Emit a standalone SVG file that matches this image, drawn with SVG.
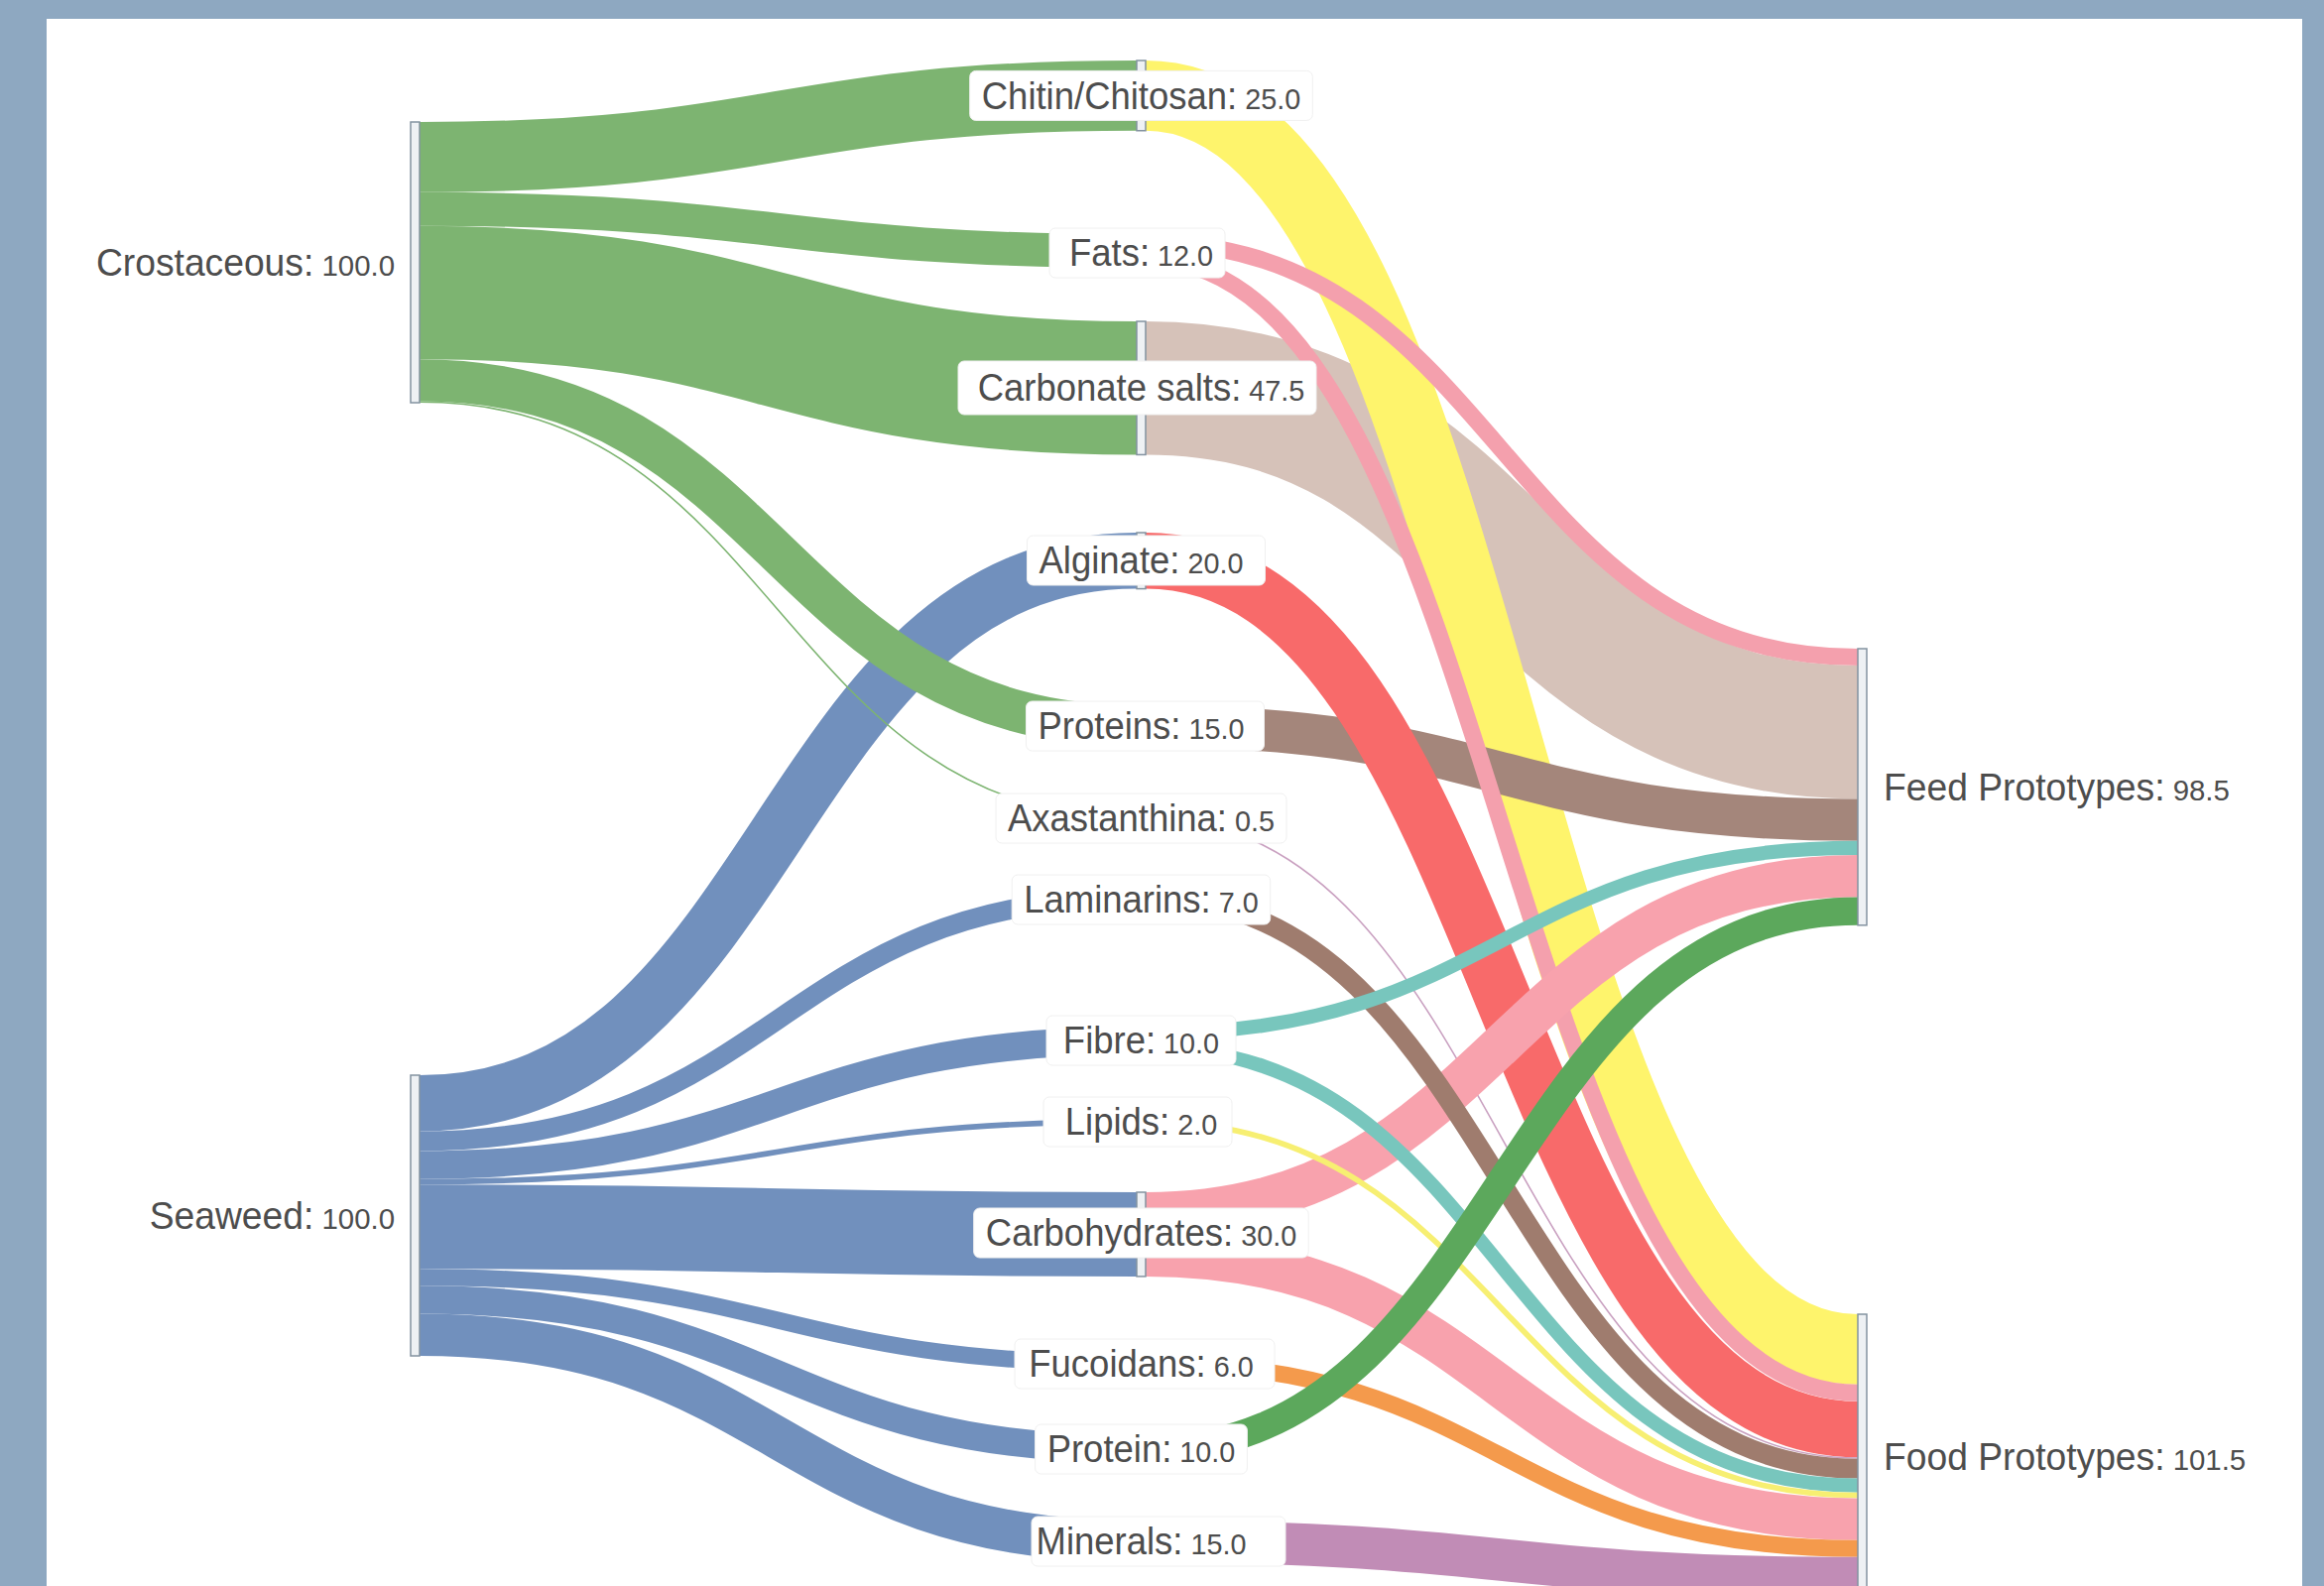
<svg xmlns="http://www.w3.org/2000/svg" width="2343" height="1599" viewBox="0 0 2343 1599">
<style>
.lk{fill:none}
.node rect.bar{fill:#eef1f4;stroke:#8392a0;stroke-width:1.5}
.box{fill:#ffffff;stroke:#f0f0f0;stroke-width:1}
.lbl{font-family:"Liberation Sans",Arial,sans-serif;fill:#4d4d4d}
.n{font-size:38px}
.v{font-size:30px}
.cr{stroke:#7db471}
.sw{stroke:#7190bd}
</style>
<rect x="0" y="0" width="2343" height="1599" fill="#8ea8c1"/>
<rect x="47" y="19" width="2274" height="1580" fill="#ffffff"/>

<g id="links">
<path class="lk sw" stroke-width="56.6" d="M423 1112.3C784.5 1112.3 784.5 565.3 1146 565.3"/>
<path class="lk sw" stroke-width="19.81" d="M423 1150.5C784.5 1150.5 784.5 904.9 1146 904.9"/>
<path class="lk sw" stroke-width="28.3" d="M423 1174.56C784.5 1174.56 784.5 1049.15 1146 1049.15"/>
<path class="lk sw" stroke-width="5.66" d="M423 1191.54C784.5 1191.54 784.5 1130.83 1146 1130.83"/>
<path class="lk sw" stroke-width="84.9" d="M423 1236.82C784.5 1236.82 784.5 1244.45 1146 1244.45"/>
<path class="lk sw" stroke-width="16.98" d="M423 1287.76C784.5 1287.76 784.5 1374.49 1146 1374.49"/>
<path class="lk sw" stroke-width="28.3" d="M423 1310.4C784.5 1310.4 784.5 1461.15 1146 1461.15"/>
<path class="lk sw" stroke-width="42.45" d="M423 1345.78C784.5 1345.78 784.5 1554.2 1146 1554.2"/>
<path class="lk cr" stroke-width="70.75" d="M423 158.38C784.5 158.38 784.5 96.38 1146 96.38"/>
<path class="lk cr" stroke-width="33.96" d="M423 210.73C784.5 210.73 784.5 253 1146 253"/>
<path class="lk cr" stroke-width="134.43" d="M423 294.92C784.5 294.92 784.5 391.21 1146 391.21"/>
<path class="lk cr" stroke-width="42.45" d="M423 383.36C784.5 383.36 784.5 732.2 1146 732.2"/>
<path class="lk cr" stroke-width="1.6" d="M423 405.29C784.5 405.29 784.5 824.7 1146 824.7"/>
<path class="lk" stroke="#d6c2b9" stroke-width="134.43" d="M1155 391.21C1514 391.21 1514 738.19 1873 738.19"/>
<path class="lk" stroke="#fef46c" stroke-width="70.75" d="M1155 96.38C1514 96.38 1514 1360.38 1873 1360.38"/>
<path class="lk" stroke="#a4867b" stroke-width="42.45" d="M1155 732.2C1514 732.2 1514 826.63 1873 826.63"/>
<path class="lk" stroke="#f86a6a" stroke-width="56.6" d="M1155 565.3C1514 565.3 1514 1441.03 1873 1441.03"/>
<path class="lk" stroke="#f4a0ad" stroke-width="16.98" d="M1155 244.49C1514 244.49 1514 662.49 1873 662.49"/>
<path class="lk" stroke="#f4a0ad" stroke-width="16.98" d="M1155 261.47C1514 261.47 1514 1404.24 1873 1404.24"/>
<path class="lk" stroke="#c9a0c0" stroke-width="1.6" d="M1155 824.7C1514 824.7 1514 1470.04 1873 1470.04"/>
<path class="lk" stroke="#f8a2ad" stroke-width="42.45" d="M1155 1223.23C1514 1223.23 1514 883.23 1873 883.23"/>
<path class="lk" stroke="#f8a2ad" stroke-width="42.45" d="M1155 1265.68C1514 1265.68 1514 1531.6 1873 1531.6"/>
<path class="lk" stroke="#9f7c6e" stroke-width="19.81" d="M1155 904.9C1514 904.9 1514 1480.65 1873 1480.65"/>
<path class="lk" stroke="#78c6bd" stroke-width="14.15" d="M1155 1042.08C1514 1042.08 1514 854.93 1873 854.93"/>
<path class="lk" stroke="#78c6bd" stroke-width="14.15" d="M1155 1056.23C1514 1056.23 1514 1497.63 1873 1497.63"/>
<path class="lk" stroke="#f7ef72" stroke-width="5.66" d="M1155 1130.83C1514 1130.83 1514 1507.54 1873 1507.54"/>
<path class="lk" stroke="#f49a4c" stroke-width="16.98" d="M1155 1374.49C1514 1374.49 1514 1561.31 1873 1561.31"/>
<path class="lk" stroke="#c18cb6" stroke-width="42.45" d="M1155 1554.2C1514 1554.2 1514 1591.03 1873 1591.03"/>
<path class="lk" stroke="#5ca85c" stroke-width="28.3" d="M1155 1461.15C1514 1461.15 1514 918.6 1873 918.6"/>
</g>

<g id="node-crostaceous" class="node">
<rect class="bar" x="414" y="123" width="9" height="283"/>
<text class="lbl" text-anchor="end" transform="translate(398 278) scale(0.98 1)"><tspan class="n">Crostaceous:</tspan><tspan class="v"> 100.0</tspan></text>
</g>
<g id="node-seaweed" class="node">
<rect class="bar" x="414" y="1084" width="9" height="283"/>
<text class="lbl" text-anchor="end" transform="translate(398 1239) scale(0.98 1)"><tspan class="n">Seaweed:</tspan><tspan class="v"> 100.0</tspan></text>
</g>

<g id="node-chitin" class="node">
<rect class="bar" x="1146" y="61" width="9" height="70.75"/>
<rect class="box" x="977.7" y="71.4" width="345.6" height="50" rx="6"/>
<text class="lbl" text-anchor="middle" transform="translate(1150.5 110) scale(0.96 1)"><tspan class="n">Chitin/Chitosan:</tspan><tspan class="v"> 25.0</tspan></text>
</g>
<g id="node-fats" class="node">
<rect class="bar" x="1146" y="236" width="9" height="33.96"/>
<rect class="box" x="1058" y="230" width="177" height="50" rx="6"/>
<text class="lbl" text-anchor="middle" transform="translate(1150.5 268) scale(0.96 1)"><tspan class="n">Fats:</tspan><tspan class="v"> 12.0</tspan></text>
</g>
<g id="node-carbonate" class="node">
<rect class="bar" x="1146" y="324" width="9" height="134.43"/>
<rect class="box" x="966" y="364" width="361" height="54" rx="6"/>
<text class="lbl" text-anchor="middle" transform="translate(1150.5 404) scale(0.96 1)"><tspan class="n">Carbonate salts:</tspan><tspan class="v"> 47.5</tspan></text>
</g>
<g id="node-alginate" class="node">
<rect class="bar" x="1146" y="537" width="9" height="56.6"/>
<rect class="box" x="1035.5" y="540" width="240" height="50" rx="6"/>
<text class="lbl" text-anchor="middle" transform="translate(1150.5 578) scale(0.96 1)"><tspan class="n">Alginate:</tspan><tspan class="v"> 20.0</tspan></text>
</g>
<g id="node-proteins" class="node">
<rect class="bar" x="1146" y="711" width="9" height="42.45"/>
<rect class="box" x="1034.5" y="707" width="240" height="50" rx="6"/>
<text class="lbl" text-anchor="middle" transform="translate(1150.5 745) scale(0.96 1)"><tspan class="n">Proteins:</tspan><tspan class="v"> 15.0</tspan></text>
</g>
<g id="node-axastanthina" class="node">
<rect class="bar" x="1146" y="824" width="9" height="1.5"/>
<rect class="box" x="1004" y="800" width="293" height="50" rx="6"/>
<text class="lbl" text-anchor="middle" transform="translate(1150.5 838) scale(0.96 1)"><tspan class="n">Axastanthina:</tspan><tspan class="v"> 0.5</tspan></text>
</g>
<g id="node-laminarins" class="node">
<rect class="bar" x="1146" y="895" width="9" height="19.81"/>
<rect class="box" x="1020.2" y="882" width="260.5" height="50" rx="6"/>
<text class="lbl" text-anchor="middle" transform="translate(1150.5 920) scale(0.96 1)"><tspan class="n">Laminarins:</tspan><tspan class="v"> 7.0</tspan></text>
</g>
<g id="node-fibre" class="node">
<rect class="bar" x="1146" y="1035" width="9" height="28.3"/>
<rect class="box" x="1055" y="1024" width="191" height="50" rx="6"/>
<text class="lbl" text-anchor="middle" transform="translate(1150.5 1062) scale(0.96 1)"><tspan class="n">Fibre:</tspan><tspan class="v"> 10.0</tspan></text>
</g>
<g id="node-lipids" class="node">
<rect class="bar" x="1146" y="1128" width="9" height="5.66"/>
<rect class="box" x="1052" y="1106" width="190" height="50" rx="6"/>
<text class="lbl" text-anchor="middle" transform="translate(1150.5 1144) scale(0.96 1)"><tspan class="n">Lipids:</tspan><tspan class="v"> 2.0</tspan></text>
</g>
<g id="node-carbohydrates" class="node">
<rect class="bar" x="1146" y="1202" width="9" height="84.9"/>
<rect class="box" x="981.7" y="1218" width="337.5" height="50" rx="6"/>
<text class="lbl" text-anchor="middle" transform="translate(1150.5 1256) scale(0.96 1)"><tspan class="n">Carbohydrates:</tspan><tspan class="v"> 30.0</tspan></text>
</g>
<g id="node-fucoidans" class="node">
<rect class="bar" x="1146" y="1366" width="9" height="16.98"/>
<rect class="box" x="1023" y="1350" width="262" height="50" rx="6"/>
<text class="lbl" text-anchor="middle" transform="translate(1150.5 1388) scale(0.96 1)"><tspan class="n">Fucoidans:</tspan><tspan class="v"> 6.0</tspan></text>
</g>
<g id="node-protein" class="node">
<rect class="bar" x="1146" y="1447" width="9" height="28.3"/>
<rect class="box" x="1043.6" y="1436" width="213.8" height="50" rx="6"/>
<text class="lbl" text-anchor="middle" transform="translate(1150.5 1474) scale(0.96 1)"><tspan class="n">Protein:</tspan><tspan class="v"> 10.0</tspan></text>
</g>
<g id="node-minerals" class="node">
<rect class="bar" x="1146" y="1533" width="9" height="42.45"/>
<rect class="box" x="1040" y="1529" width="256" height="50" rx="6"/>
<text class="lbl" text-anchor="middle" transform="translate(1150.5 1567) scale(0.96 1)"><tspan class="n">Minerals:</tspan><tspan class="v"> 15.0</tspan></text>
</g>

<g id="node-feed" class="node">
<rect class="bar" x="1873" y="654" width="9" height="278.8"/>
<text class="lbl" transform="translate(1899 807) scale(0.98 1)"><tspan class="n">Feed Prototypes:</tspan><tspan class="v"> 98.5</tspan></text>
</g>
<g id="node-food" class="node">
<rect class="bar" x="1873" y="1325" width="9" height="287.2"/>
<text class="lbl" transform="translate(1899 1482) scale(0.98 1)"><tspan class="n">Food Prototypes:</tspan><tspan class="v"> 101.5</tspan></text>
</g>
</svg>
